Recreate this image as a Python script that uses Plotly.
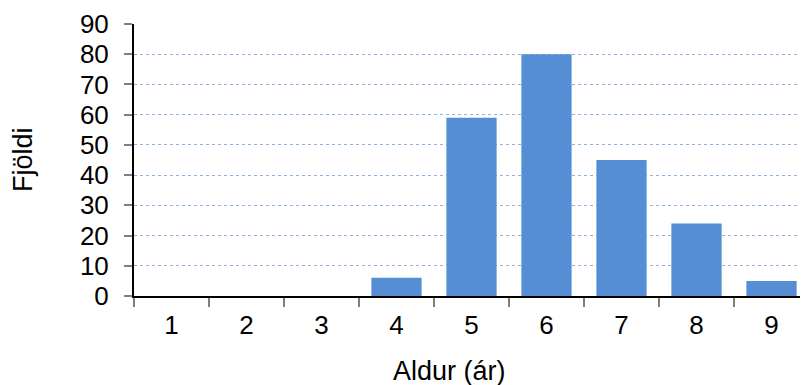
import plotly.graph_objects as go

ages = ["1", "2", "3", "4", "5", "6", "7", "8", "9"]
counts = [0, 0, 0, 6, 59, 80, 45, 24, 5]
y_ticks = [0, 10, 20, 30, 40, 50, 60, 70, 80, 90]

fig = go.Figure(go.Bar(
    x=ages, y=counts,
    marker=dict(color="#558ED5", line=dict(width=0)),
))

tick_font = dict(family="Liberation Sans, Arial, sans-serif", size=26, color="#000000")
title_font = dict(family="Liberation Sans, Arial, sans-serif", size=27, color="#000000")

# page body has an 8px margin; figure coordinates are offset accordingly
L, R, T, B = 126, 7, 16, 97
W, H = 808, 385
pw = W - L - R
ph = H - T - B

fig.update_layout(
    width=W, height=H,
    margin=dict(l=L, r=R, t=T, b=B, autoexpand=False),
    paper_bgcolor="white", plot_bgcolor="white",
    bargap=0.33,
    showlegend=False,
    font=tick_font,
    xaxis=dict(
        type="category", automargin=False,
        showline=True, linecolor="#000000", linewidth=2,
        ticks="outside", tickson="boundaries", ticklen=9, tickcolor="#7F7F7F", tickwidth=2,
        showgrid=False,
        tickfont=tick_font, ticklabelstandoff=5,
    ),
    yaxis=dict(
        range=[0, 90], tickvals=y_ticks, automargin=False,
        showline=True, linecolor="#000000", linewidth=2,
        ticks="outside", ticklen=8, tickcolor="#7F7F7F", tickwidth=2,
        showgrid=True, gridcolor="#8EB4E3", griddash="dot", gridwidth=1,
        zeroline=False,
        tickfont=tick_font, ticklabelstandoff=10,
    ),
    annotations=[
        dict(text="Aldur (ár)", xref="paper", yref="paper",
             x=(449 - 8 - L) / pw, y=(H - B - (371 - 8)) / ph,
             xanchor="center", yanchor="middle", showarrow=False, font=title_font),
        dict(text="Fjöldi", xref="paper", yref="paper",
             x=(23 - 8 - L) / pw, y=0.5, textangle=-90,
             xanchor="center", yanchor="middle", showarrow=False, font=title_font),
    ],
)

fig.write_html("out.html")
